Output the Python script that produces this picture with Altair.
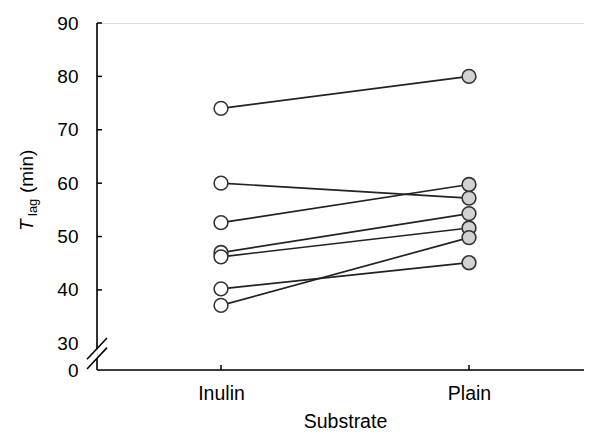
import altair as alt
import pandas as pd

# Data
substrates = ["Inulin", "Plain"]
inulin_vals = [74.0, 60.0, 52.6, 47.0, 46.2, 40.2, 37.1]
plain_vals = [80.0, 57.2, 59.75, 54.3, 51.6, 45.1, 49.8]
y_tick_values = [25, 30, 40, 50, 60, 70, 80, 90]
inward_ticks = [40, 50, 60, 70, 80, 90]
axis_segments_lo = [29.0, 25.0]
axis_segments_hi = [90.0, 27.2]
slash_lo = [27.0, 25.2]
slash_hi = [31.0, 29.2]

rows = []
for i, (a, b) in enumerate(zip(inulin_vals, plain_vals)):
    rows.append({"subject": i, "substrate": "Inulin", "tlag": a})
    rows.append({"subject": i, "substrate": "Plain", "tlag": b})
df = pd.DataFrame(rows)

FONT = "Liberation Sans"
W, H = 487, 347

xscale = alt.Scale(type="point", domain=substrates, range=[124, 372], padding=0)
yscale = alt.Scale(domain=[25, 90], nice=False, zero=False)

xenc = alt.X("substrate:N", scale=xscale, sort=substrates,
             axis=alt.Axis(title="Substrate", labelAngle=0, ticks=False, grid=False,
                           domain=False,
                           labelFont=FONT, labelFontSize=19.5, labelColor="black",
                           labelPadding=14, titleFont=FONT, titleFontSize=19.5,
                           titleFontWeight="normal", titleColor="black", titlePadding=10,
                           titleX=248))
yenc = alt.Y("tlag:Q", scale=yscale,
             axis=alt.Axis(title=None, values=y_tick_values, domain=False, ticks=False,
                           grid=False, labelExpr="datum.value == 25 ? '0' : datum.label",
                           labelFont=FONT, labelFontSize=19, labelColor="black",
                           labelPadding=19))

lines = alt.Chart(df).mark_line(color="#222222", strokeWidth=1.7).encode(
    x=xenc, y=yenc, detail="subject:N")

points = alt.Chart(df).mark_point(filled=False, size=190, strokeWidth=1.6, opacity=1).encode(
    x=alt.X("substrate:N", scale=xscale, sort=substrates),
    y=alt.Y("tlag:Q", scale=yscale),
    fill=alt.Fill("substrate:N", scale=alt.Scale(domain=substrates, range=["white", "#d2d2d2"]), legend=None),
    stroke=alt.value("#333333"),
)

seg_df = pd.DataFrame({"lo": axis_segments_lo, "hi": axis_segments_hi})
axis_line = alt.Chart(seg_df).mark_rule(color="black", strokeWidth=1.6).encode(
    x=alt.value(0), y=alt.Y("lo:Q", scale=yscale), y2="hi:Q")

x_axis_line = alt.Chart(pd.DataFrame({"s": ["axis"]})).mark_rule(color="black", strokeWidth=1.6).encode(
    x=alt.value(0), x2=alt.value(W), y=alt.value(H))

slash_df = pd.DataFrame({"lo": slash_lo, "hi": slash_hi})
slashes = alt.Chart(slash_df).mark_rule(color="black", strokeWidth=1.6).encode(
    x=alt.value(-10), x2=alt.value(10), y=alt.Y("lo:Q", scale=yscale), y2="hi:Q")

ytick_df = pd.DataFrame({"v": inward_ticks})
yticks = alt.Chart(ytick_df).mark_rule(color="black", strokeWidth=1.5).encode(
    x=alt.value(0), x2=alt.value(5), y=alt.Y("v:Q", scale=yscale))

xtick_df = pd.DataFrame({"s": substrates})
xticks = alt.Chart(xtick_df).mark_rule(color="black", strokeWidth=1.5).encode(
    x=alt.X("s:N", scale=xscale, sort=substrates), y=alt.value(H), y2=alt.value(H - 5))

t_T = alt.Chart(pd.DataFrame({"txt": ["T"]})).mark_text(
    font=FONT, fontSize=19, fontStyle="italic", angle=270, align="left",
    baseline="alphabetic", color="black").encode(
    text="txt:N", x=alt.value(-64), y=alt.value(208))
t_lag = alt.Chart(pd.DataFrame({"txt": ["lag"]})).mark_text(
    font=FONT, fontSize=13, angle=270, align="left",
    baseline="alphabetic", color="black").encode(
    text="txt:N", x=alt.value(-60), y=alt.value(193))
t_min = alt.Chart(pd.DataFrame({"txt": ["(min)"]})).mark_text(
    font=FONT, fontSize=19, angle=270, align="left",
    baseline="alphabetic", color="black").encode(
    text="txt:N", x=alt.value(-64), y=alt.value(170))

chart = alt.layer(lines, axis_line, x_axis_line, slashes, yticks, xticks, points,
                  t_T, t_lag, t_min).properties(
    width=W, height=H,
    padding={"left": 89, "top": 15, "right": 0, "bottom": 62},
    autosize=alt.AutoSizeParams(type="none"),
).configure_view(stroke=None).configure(background="white")

chart.save("out.html", embed_options={"renderer": "svg", "actions": False})
